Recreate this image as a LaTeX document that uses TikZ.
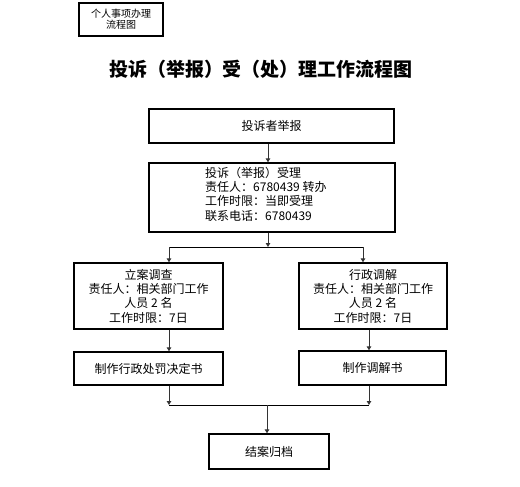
\documentclass[tikz,border=0pt]{standalone}
\usepackage{fontspec}
\setmainfont{Noto Sans CJK SC}
\usetikzlibrary{arrows.meta}
\begin{document}
\begin{tikzpicture}[x=1pt,y=-1pt,
  box/.style={draw, line width=1.3pt, inner sep=0pt, font=\fontsize{12}{14.3}\selectfont},
  txt/.style={inner sep=0pt, font=\fontsize{12}{14.3}\selectfont},
  arr/.style={draw=black!80, line width=1pt, -{Triangle[length=4pt,width=4.5pt]}},
  lnk/.style={draw=black, line width=1pt}]
\useasboundingbox (0,0) rectangle (520,487);
\node[box, line width=1.1pt, minimum width=84pt, minimum height=33pt, align=center,
  font=\fontsize{10}{11}\selectfont] (b0) at (121,19.5) {个人事项办理\\流程图};
\node[txt, font=\fontsize{19}{22}\bfseries] (title) at (261,69) {投诉（举报）受（处）理工作流程图};
\node[box, minimum width=245pt, minimum height=34pt] (b1) at (271.5,126) {投诉者举报};
\node[box, minimum width=246pt, minimum height=69pt] (b2) at (272,197.5) {};
\node[txt, anchor=west, align=left] (t2) at (205,194) {投诉（举报）受理\\责任人：6780439 转办\\工作时限：当即受理\\联系电话：6780439};
\node[box, minimum width=149pt, minimum height=66pt, align=center] (b3) at (148.5,296) {立案调查\\责任人：相关部门工作\\人员 2 名\\工作时限：7日};
\node[box, minimum width=148pt, minimum height=66pt, align=center] (b4) at (373,296) {行政调解\\责任人：相关部门工作\\人员 2 名\\工作时限：7日};
\node[box, minimum width=149pt, minimum height=33pt] (b5) at (148.5,368.5) {制作行政处罚决定书};
\node[box, minimum width=147pt, minimum height=34pt] (b6) at (372.5,368) {制作调解书};
\node[box, minimum width=120pt, minimum height=35pt] (b7) at (269,451.5) {结案归档};
\coordinate (j1) at (268,247);
\coordinate (jl) at (169,247);
\coordinate (jr) at (363,247);
\coordinate (kl) at (169,405);
\coordinate (kr) at (369,405);
\coordinate (k) at (267,405);
\draw[arr] (b1.south -| j1) -- (b2.north -| j1);
\draw[arr] (b2.south -| j1) -- (j1);
\draw[lnk] (jl) -- (jr);
\draw[arr] (jl) -- (b3.north -| jl);
\draw[arr] (jr) -- (b4.north -| jr);
\draw[arr] (b3.south -| jl) -- (b5.north -| jl);
\draw[arr] (b4.south -| kr) -- (b6.north -| kr);
\draw[arr] (b5.south -| kl) -- (kl);
\draw[arr] (b6.south -| kr) -- (kr);
\draw[lnk] (kl) -- (kr);
\draw[arr] (k) -- (b7.north -| k);
\end{tikzpicture}
\end{document}
